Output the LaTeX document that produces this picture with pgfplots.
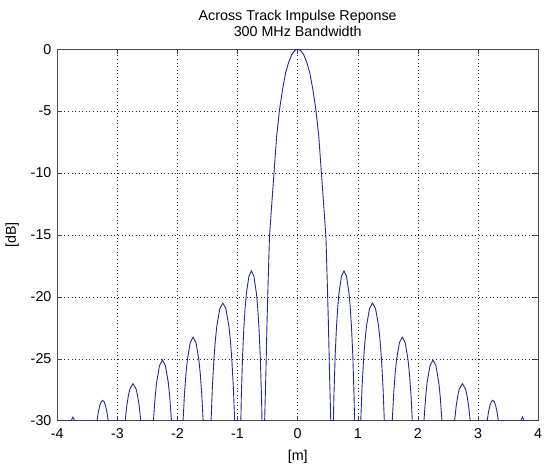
\documentclass[border=0pt]{standalone}
\usepackage{fontspec}
\setmainfont{Liberation Sans}
\usepackage{pgfplots}
\pgfplotsset{compat=1.18}
\definecolor{trace}{RGB}{40,40,140}

\begin{document}
\fontsize{14.4}{15.7}\selectfont
\begin{tikzpicture}
% page about 548 x 467, axis box 484.6 x 374.5 placed like the reference
\useasboundingbox (-57.7pt,-43pt) rectangle (490.5pt,424pt);
\begin{axis}[
  scale only axis, width=484.6pt, height=374.5pt,
  xmin=-4, xmax=4, ymin=-30, ymax=0,
  xtick={-4,-3,-2,-1,0,1,2,3,4},
  xticklabels={-4,-3,-2,-1,0,1,2,3,4},
  ytick={-30,-25,-20,-15,-10,-5,0},
  yticklabels={-30,-25,-20,-15,-10,-5,0},
  tick align=inside, major tick length=5pt,
  tick style={black!75, line width=0.6pt},
  axis line style={black!70, line width=0.8pt},
  grid=major,
  grid style={black!85, line width=0.6pt, dash pattern=on 1pt off 2.6pt},
  xticklabel style={anchor=base, inner sep=0pt, yshift=-18pt},
  yticklabel style={anchor=east, inner sep=0pt, xshift=-5.7pt},
  every axis title/.style={at={(axis description cs:0.5,1)}, anchor=south,
    inner sep=0pt, yshift=12.8pt, align=center},
  title={Across Track Impulse Reponse\\300 MHz Bandwidth},
  every axis x label/.style={at={(axis description cs:0.5,0)}, anchor=base,
    inner sep=0pt, yshift=-39.8pt},
  xlabel={[m]},
  every axis y label/.style={at={(axis description cs:-0.0937,0.5)},
    anchor=center, rotate=90, inner sep=0pt},
  ylabel={[dB]},
]
\addplot[trace, line width=0.9pt] coordinates {
 (-4.000,-30) (-3.768,-30) (-3.740,-29.70) (-3.712,-30)
 (-3.338,-30) (-3.319,-29.35) (-3.294,-28.79) (-3.270,-28.46) (-3.245,-28.35)
 (-3.221,-28.46) (-3.196,-28.79) (-3.172,-29.35) (-3.152,-30)
 (-2.870,-30) (-2.844,-28.84) (-2.818,-28.00) (-2.792,-27.44) (-2.740,-27.00)
 (-2.688,-27.44) (-2.662,-28.00) (-2.636,-28.84) (-2.610,-30)
 (-2.400,-30) (-2.372,-28.11) (-2.348,-26.94) (-2.299,-25.54) (-2.250,-25.10)
 (-2.201,-25.54) (-2.152,-26.94) (-2.128,-28.11) (-2.100,-30)
 (-1.907,-30) (-1.884,-27.87) (-1.860,-26.26) (-1.836,-25.09) (-1.788,-23.69)
 (-1.740,-23.25) (-1.692,-23.69) (-1.644,-25.09) (-1.620,-26.26) (-1.596,-27.87)
 (-1.573,-30)
 (-1.441,-30) (-1.420,-27.36) (-1.395,-25.12) (-1.370,-23.51) (-1.345,-22.34)
 (-1.295,-20.94) (-1.245,-20.50) (-1.195,-20.94) (-1.145,-22.34) (-1.120,-23.51)
 (-1.095,-25.12) (-1.070,-27.36) (-1.049,-30)
 (-0.946,-30) (-0.938,-28.10) (-0.917,-24.76) (-0.896,-22.52) (-0.875,-20.91)
 (-0.854,-19.74) (-0.812,-18.34) (-0.770,-17.90) (-0.728,-18.34) (-0.686,-19.74)
 (-0.665,-20.91) (-0.644,-22.52) (-0.623,-24.76) (-0.602,-28.10) (-0.594,-30)
 (-0.550,-30) (-0.530,-26.3) (-0.510,-22.0) (-0.490,-18.5) (-0.470,-15.2)
 (-0.430,-12.4) (-0.390,-9.7) (-0.350,-7.0) (-0.300,-4.8) (-0.250,-3.2)
 (-0.200,-1.9) (-0.150,-1.05) (-0.100,-0.45) (-0.050,-0.12) (0.000,0)
 (0.050,-0.12) (0.100,-0.45) (0.150,-1.05) (0.200,-1.9) (0.250,-3.2)
 (0.300,-4.8) (0.350,-7.0) (0.390,-9.7) (0.430,-12.4) (0.470,-15.2)
 (0.490,-18.5) (0.510,-22.0) (0.530,-26.3) (0.550,-30)
 (0.594,-30) (0.602,-28.10) (0.623,-24.76) (0.644,-22.52) (0.665,-20.91)
 (0.686,-19.74) (0.728,-18.34) (0.770,-17.90) (0.812,-18.34) (0.854,-19.74)
 (0.875,-20.91) (0.896,-22.52) (0.917,-24.76) (0.938,-28.10) (0.946,-30)
 (1.049,-30) (1.070,-27.36) (1.095,-25.12) (1.120,-23.51) (1.145,-22.34)
 (1.195,-20.94) (1.245,-20.50) (1.295,-20.94) (1.345,-22.34) (1.370,-23.51)
 (1.395,-25.12) (1.420,-27.36) (1.441,-30)
 (1.573,-30) (1.596,-27.87) (1.620,-26.26) (1.644,-25.09) (1.692,-23.69)
 (1.740,-23.25) (1.788,-23.69) (1.836,-25.09) (1.860,-26.26) (1.884,-27.87)
 (1.907,-30)
 (2.100,-30) (2.128,-28.11) (2.152,-26.94) (2.201,-25.54) (2.250,-25.10)
 (2.299,-25.54) (2.348,-26.94) (2.372,-28.11) (2.400,-30)
 (2.610,-30) (2.636,-28.84) (2.662,-28.00) (2.688,-27.44) (2.740,-27.00)
 (2.792,-27.44) (2.818,-28.00) (2.844,-28.84) (2.870,-30)
 (3.152,-30) (3.172,-29.35) (3.196,-28.79) (3.221,-28.46) (3.245,-28.35)
 (3.270,-28.46) (3.294,-28.79) (3.319,-29.35) (3.338,-30)
 (3.712,-30) (3.740,-29.70) (3.768,-30) (4.000,-30)
};
\end{axis}
\end{tikzpicture}
\end{document}
